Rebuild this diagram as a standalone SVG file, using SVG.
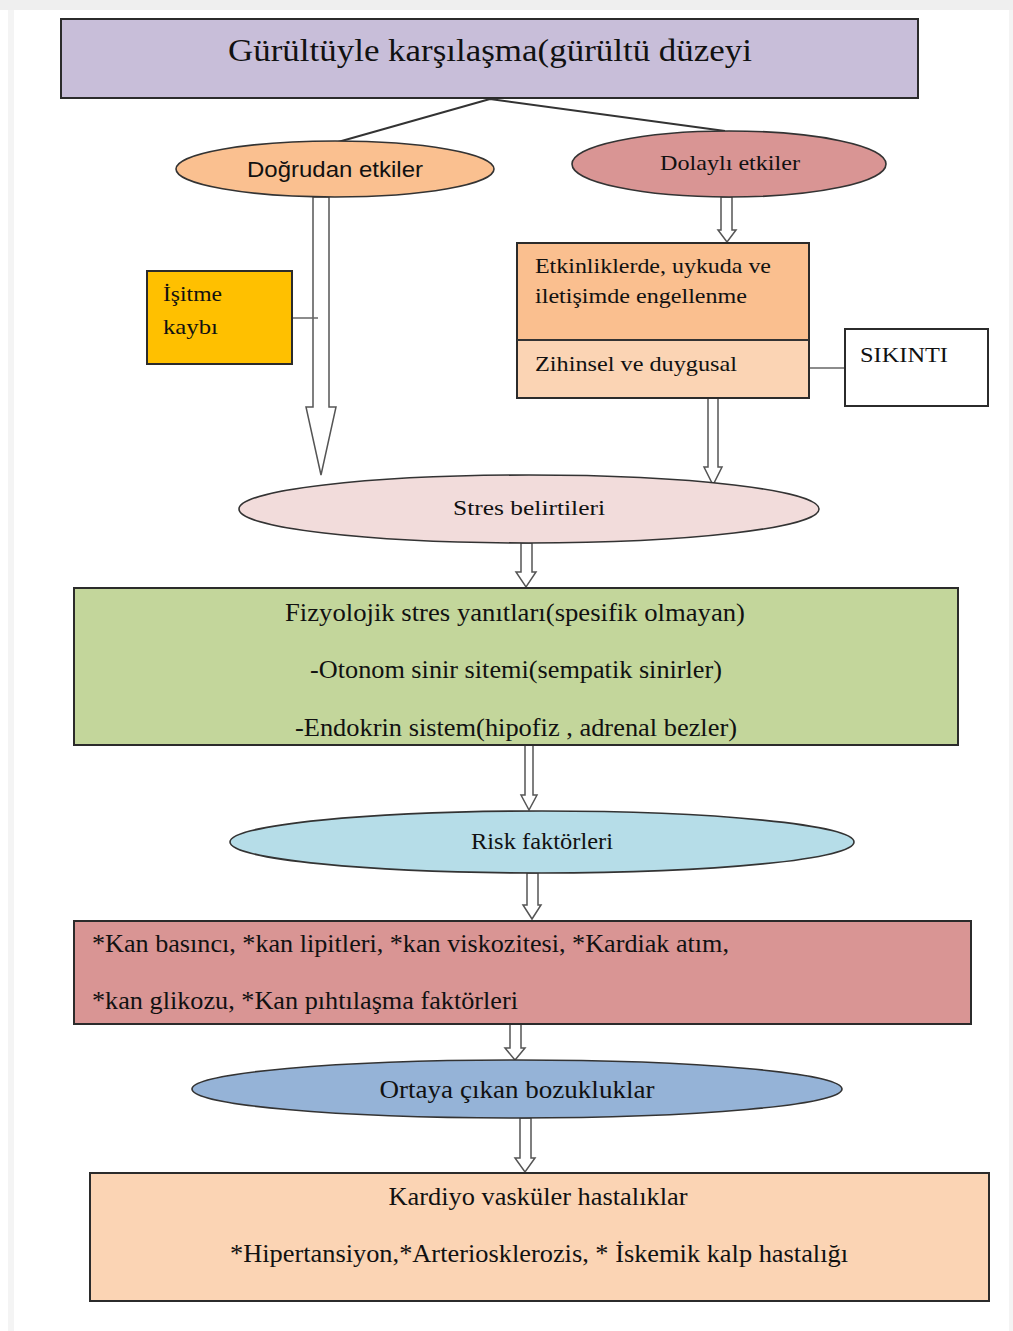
<svg xmlns="http://www.w3.org/2000/svg" width="1013" height="1331" viewBox="0 0 1013 1331">
<style>
.box{stroke:#2b2b2b;stroke-width:2}
.ell{stroke:#333;stroke-width:1.6}
.t{font-family:"Liberation Serif","Times New Roman",serif;fill:#111}
.s{font-family:"Liberation Sans",Arial,sans-serif;fill:#111}
.arr{fill:#fff;stroke:#555;stroke-width:1.5;stroke-linejoin:miter}
.ln{stroke:#333;stroke-width:2;fill:none}
.thin{stroke:#666;stroke-width:1.5;fill:none}
</style>
<rect width="1013" height="1331" fill="#ffffff"/>
<rect x="0" y="0" width="1013" height="10" fill="#efefef"/>
<rect x="8" y="10" width="6" height="1321" fill="#f4f4f4"/>
<rect x="1009" y="10" width="4" height="1321" fill="#f4f4f4"/>

<g id="connectors">
<path class="ln" d="M490,99 L338,142 M490,99 L725,131"/>
<polygon class="arr" points="313,197 329,197 329,407 336,407 321,475 306,407 313,407"/>
<line class="thin" x1="292" y1="318" x2="318" y2="318"/>
<polygon class="arr" points="721,197 732,197 732,230 736,230 727,242 718,230 721,230"/>
<line class="thin" x1="809" y1="368" x2="845" y2="368"/>
<polygon class="arr" points="708,398 718,398 718,467 722,467 713,485 704,467 708,467"/>
<polygon class="arr" points="521,543 532,543 532,572 536,572 526,587 516,572 521,572"/>
<polygon class="arr" points="525,745 533,745 533,795 537,795 529,810 521,795 525,795"/>
<polygon class="arr" points="527,873 538,873 538,905 541,905 532,919 523,905 527,905"/>
<polygon class="arr" points="510,1024 521,1024 521,1048 525,1048 515,1060 505,1048 510,1048"/>
<polygon class="arr" points="520,1118 531,1118 531,1158 535,1158 525,1172 515,1158 520,1158"/>
</g>

<g id="node-top">
<rect class="box" x="61" y="19" width="857" height="79" fill="#c8bed9"/>
<text class="t" x="490" y="61" font-size="32" text-anchor="middle" textLength="524" lengthAdjust="spacingAndGlyphs">Gürültüyle karşılaşma(gürültü düzeyi</text>
</g>

<g id="node-dogrudan">
<ellipse class="ell" cx="335" cy="169" rx="159" ry="28" fill="#fac090"/>
<text class="s" x="335" y="177" font-size="22" text-anchor="middle" textLength="176" lengthAdjust="spacingAndGlyphs">Doğrudan etkiler</text>
</g>

<g id="node-dolayli">
<ellipse class="ell" cx="729" cy="164" rx="157" ry="33" fill="#d99594"/>
<text class="t" x="730" y="170" font-size="22" text-anchor="middle" textLength="140" lengthAdjust="spacingAndGlyphs">Dolaylı etkiler</text>
</g>

<g id="node-isitme">
<rect class="box" x="147" y="271" width="145" height="93" fill="#ffc000"/>
<text class="t" x="163" y="301" font-size="22" textLength="59" lengthAdjust="spacingAndGlyphs">İşitme</text>
<text class="t" x="163" y="334" font-size="22" textLength="55" lengthAdjust="spacingAndGlyphs">kaybı</text>
</g>

<g id="node-etkinlik">
<rect x="517" y="243" width="292" height="97" fill="#fabf8f"/>
<rect x="517" y="340" width="292" height="58" fill="#fbd4b4"/>
<rect class="box" x="517" y="243" width="292" height="155" fill="none"/>
<line class="ln" x1="517" y1="340" x2="809" y2="340"/>
<text class="t" x="535" y="273" font-size="21" textLength="236" lengthAdjust="spacingAndGlyphs">Etkinliklerde, uykuda ve</text>
<text class="t" x="535" y="303" font-size="21" textLength="212" lengthAdjust="spacingAndGlyphs">iletişimde engellenme</text>
<text class="t" x="535" y="371" font-size="21" textLength="202" lengthAdjust="spacingAndGlyphs">Zihinsel ve duygusal</text>
</g>

<g id="node-sikinti">
<rect class="box" x="845" y="329" width="143" height="77" fill="#ffffff"/>
<text class="t" x="860" y="362" font-size="21" textLength="88" lengthAdjust="spacingAndGlyphs">SIKINTI</text>
</g>

<g id="node-stres">
<ellipse class="ell" cx="529" cy="509" rx="290" ry="34" fill="#f2dcdb"/>
<text class="t" x="529" y="515" font-size="22" text-anchor="middle" textLength="152" lengthAdjust="spacingAndGlyphs">Stres belirtileri</text>
</g>

<g id="node-fizyolojik">
<rect class="box" x="74" y="588" width="884" height="157" fill="#c3d69b"/>
<text class="t" x="515" y="621" font-size="26" text-anchor="middle" textLength="460" lengthAdjust="spacingAndGlyphs">Fizyolojik stres  yanıtları(spesifik olmayan)</text>
<text class="t" x="516" y="678" font-size="26" text-anchor="middle" textLength="412" lengthAdjust="spacingAndGlyphs">-Otonom sinir sitemi(sempatik sinirler)</text>
<text class="t" x="516" y="736" font-size="26" text-anchor="middle" textLength="442" lengthAdjust="spacingAndGlyphs">-Endokrin sistem(hipofiz , adrenal bezler)</text>
</g>

<g id="node-risk">
<ellipse class="ell" cx="542" cy="842" rx="312" ry="31" fill="#b6dde8"/>
<text class="t" x="542" y="849" font-size="23" text-anchor="middle" textLength="142" lengthAdjust="spacingAndGlyphs">Risk faktörleri</text>
</g>

<g id="node-kan">
<rect class="box" x="74" y="921" width="897" height="103" fill="#d99594"/>
<text class="t" x="92" y="952" font-size="26" textLength="637" lengthAdjust="spacingAndGlyphs">*Kan basıncı, *kan lipitleri, *kan viskozitesi, *Kardiak atım,</text>
<text class="t" x="92" y="1009" font-size="26" textLength="426" lengthAdjust="spacingAndGlyphs">*kan glikozu, *Kan pıhtılaşma faktörleri</text>
</g>

<g id="node-ortaya">
<ellipse class="ell" cx="517" cy="1089" rx="325" ry="29" fill="#95b3d7"/>
<text class="t" x="517" y="1098" font-size="25" text-anchor="middle" textLength="275" lengthAdjust="spacingAndGlyphs">Ortaya çıkan  bozukluklar</text>
</g>

<g id="node-kardiyo">
<rect class="box" x="90" y="1173" width="899" height="128" fill="#fbd4b4"/>
<text class="t" x="538" y="1205" font-size="25" text-anchor="middle" textLength="299" lengthAdjust="spacingAndGlyphs">Kardiyo vasküler hastalıklar</text>
<text class="t" x="539" y="1262" font-size="25" text-anchor="middle" textLength="618" lengthAdjust="spacingAndGlyphs">*Hipertansiyon,*Arteriosklerozis, * İskemik kalp hastalığı</text>
</g>
</svg>
